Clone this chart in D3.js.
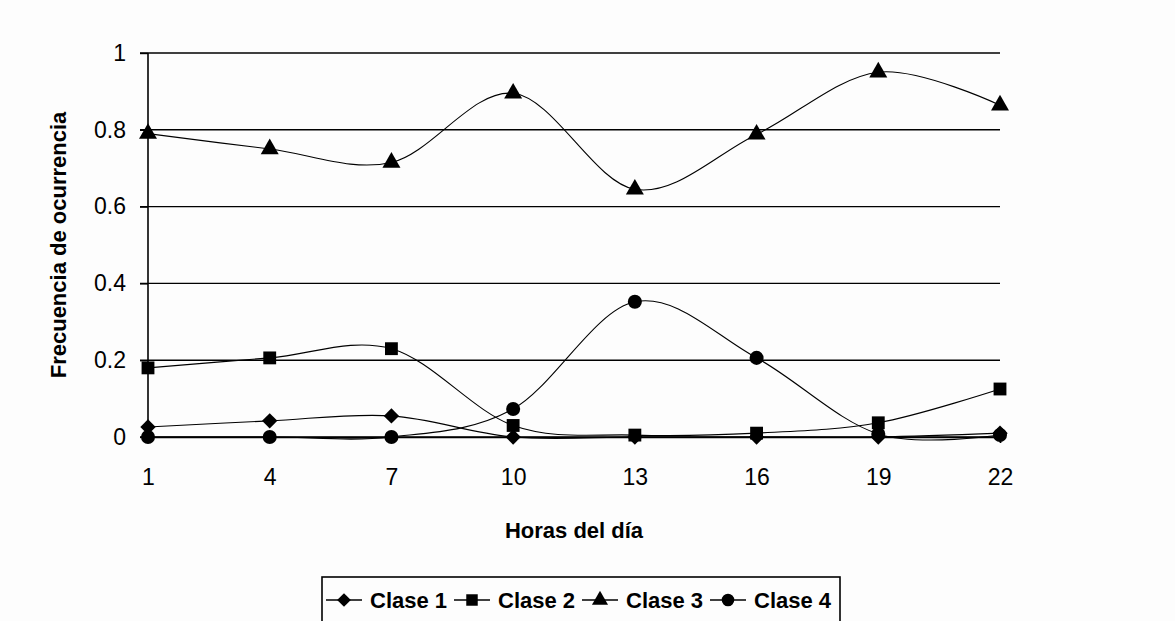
<!DOCTYPE html>
<html lang="es">
<head>
    <meta charset="UTF-8">
    <title>Frecuencia de ocurrencia por hora</title>
    <style>
        body { margin: 0; background: #fdfdfd; }
        svg { font-family: "Liberation Sans", Arial, sans-serif; }
    </style>
    <script src="https://cdnjs.cloudflare.com/ajax/libs/d3/7.8.5/d3.min.js"></script>
</head>
<body>
    <div id="chart"></div>

    <script>
        // Data
        const hours = [1, 4, 7, 10, 13, 16, 19, 22];
        const clase1 = [0.026, 0.042, 0.055, 0.0, 0.0, 0.0, 0.0, 0.01];
        const clase2 = [0.18, 0.206, 0.23, 0.03, 0.005, 0.01, 0.037, 0.125];
        const clase3 = [0.79, 0.75, 0.715, 0.895, 0.645, 0.788, 0.95, 0.864];
        const clase4 = [0.0, 0.0, 0.0, 0.073, 0.352, 0.206, 0.008, 0.005];
        const yTicks = [0, 0.2, 0.4, 0.6, 0.8, 1];

        const series = [
            { name: "Clase 1", values: clase1, symbol: d3.symbolDiamond2, size: 150 },
            { name: "Clase 2", values: clase2, symbol: d3.symbolSquare, size: 165 },
            { name: "Clase 3", values: clase3, symbol: d3.symbolTriangle, size: 140 },
            { name: "Clase 4", values: clase4, symbol: d3.symbolCircle, size: 155 }
        ];

        const W = 1175, H = 621;
        const margin = { top: 53, right: 175, bottom: 184, left: 148 };
        const width = W - margin.left - margin.right;
        const height = H - margin.top - margin.bottom;

        const svg = d3.select("#chart").append("svg")
            .attr("width", W)
            .attr("height", H);

        const g = svg.append("g")
            .attr("transform", `translate(${margin.left},${margin.top})`);

        const x = d3.scalePoint().domain(hours).range([0, width]);
        const y = d3.scaleLinear().domain([0, 1]).range([height, 0]);

        // horizontal gridlines with tick stubs to the left
        g.append("g")
            .selectAll("line")
            .data(yTicks)
            .join("line")
            .attr("x1", -8).attr("x2", width)
            .attr("y1", d => y(d)).attr("y2", d => y(d))
            .attr("stroke", "#000").attr("stroke-width", 1.4);

        // y axis
        const yAxis = g.append("g")
            .call(d3.axisLeft(y).tickValues(yTicks).tickSize(8).tickPadding(14)
                .tickFormat(d => d === 0 || d === 1 ? d3.format("d")(d) : d3.format(".1f")(d)));
        yAxis.select(".domain").remove();
        yAxis.selectAll("line").attr("stroke-width", 1.4);
        yAxis.selectAll("text").attr("font-size", 23).attr("fill", "#000");

        // vertical axis line
        g.append("line")
            .attr("x1", 0).attr("x2", 0).attr("y1", 0).attr("y2", height)
            .attr("stroke", "#000").attr("stroke-width", 1.6);

        // x axis
        const xAxis = g.append("g")
            .attr("transform", `translate(0,${height})`)
            .call(d3.axisBottom(x).tickSize(6).tickPadding(26));
        xAxis.select(".domain").attr("stroke-width", 1.4);
        xAxis.selectAll("line").attr("stroke-width", 1.4);
        xAxis.selectAll("text").attr("font-size", 23).attr("fill", "#000");

        // lines
        const line = d3.line()
            .x((d, i) => x(hours[i]))
            .y(d => y(d))
            .curve(d3.curveCardinal.tension(0));

        g.selectAll(".serie")
            .data(series)
            .join("path")
            .attr("class", "serie")
            .attr("d", d => line(d.values))
            .attr("fill", "none")
            .attr("stroke", "#000")
            .attr("stroke-width", 1.1);

        // markers
        series.forEach(s => {
            g.append("g")
                .selectAll("path")
                .data(s.values)
                .join("path")
                .attr("transform", (d, i) => `translate(${x(hours[i])},${y(d)})`)
                .attr("d", d3.symbol().type(s.symbol).size(s.size))
                .attr("fill", "#000");
        });

        // axis titles
        svg.append("text")
            .attr("x", margin.left + width / 2)
            .attr("y", 538)
            .attr("text-anchor", "middle")
            .attr("font-size", 22).attr("font-weight", "bold")
            .text("Horas del día");

        svg.append("text")
            .attr("transform", `translate(66,${margin.top + height / 2}) rotate(-90)`)
            .attr("text-anchor", "middle")
            .attr("font-size", 22).attr("font-weight", "bold")
            .text("Frecuencia de ocurrencia");

        // legend
        const legend = svg.append("g").attr("transform", "translate(322,577)");
        legend.append("rect")
            .attr("x", 0).attr("y", 0)
            .attr("width", 518).attr("height", 60)
            .attr("fill", "none").attr("stroke", "#000").attr("stroke-width", 1.6);

        const itemW = 128;
        series.forEach((s, i) => {
            const item = legend.append("g").attr("transform", `translate(${4 + i * itemW},23)`);
            item.append("line")
                .attr("x1", 0).attr("x2", 36)
                .attr("stroke", "#000").attr("stroke-width", 1.3);
            item.append("path")
                .attr("transform", "translate(18,0)")
                .attr("d", d3.symbol().type(s.symbol).size(s.size * 0.8))
                .attr("fill", "#000");
            item.append("text")
                .attr("x", 44).attr("y", 8)
                .attr("font-size", 22).attr("font-weight", "bold")
                .text(s.name);
        });
    </script>
</body>
</html>
